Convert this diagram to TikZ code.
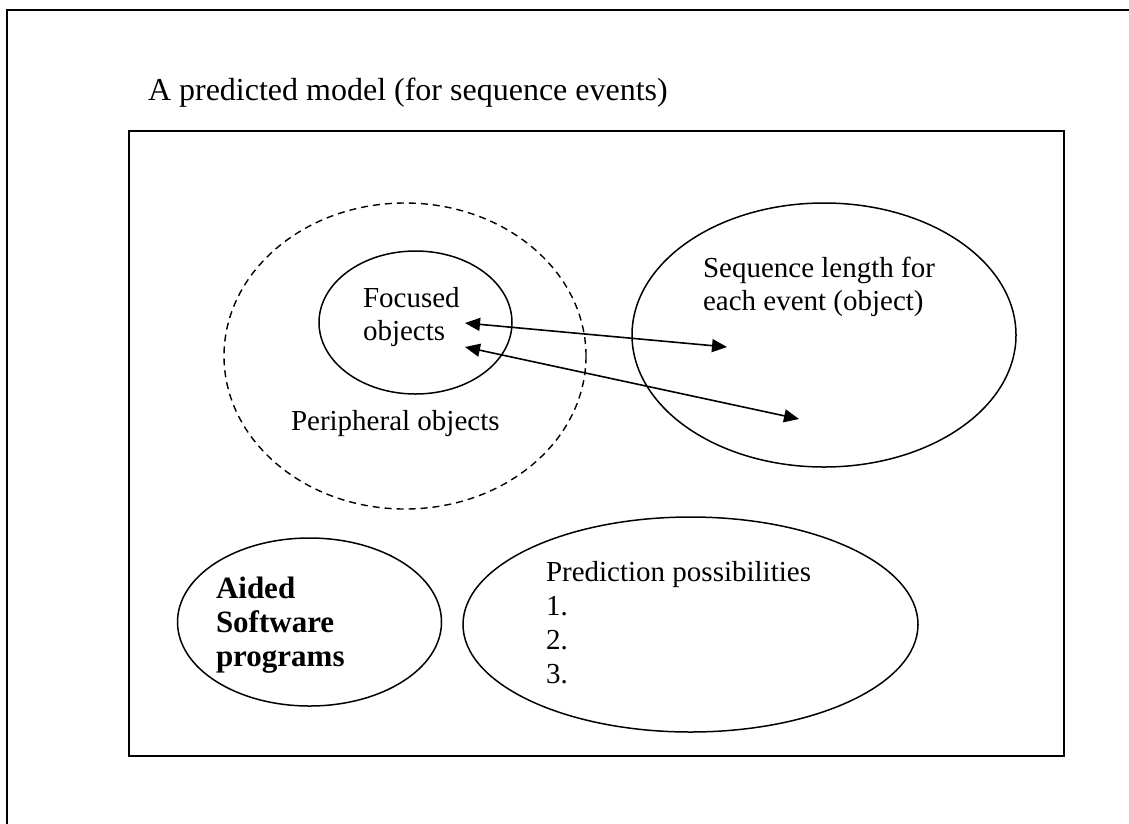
\documentclass[tikz,border=0pt]{standalone}
\usepackage{fontspec}
\setmainfont{Liberation Serif}
\usetikzlibrary{shapes.geometric,arrows.meta}

\begin{document}
\begin{tikzpicture}[x=1pt,y=-1pt,
  frame/.style={draw=black,line width=2pt},
  blob/.style={ellipse,draw=black,line width=1.5pt,inner sep=0pt,outer sep=0pt},
  dashedblob/.style={blob,line width=1.4pt,dash pattern=on 7pt off 5pt},
  lbl/.style={anchor=base west,inner sep=0pt,outer sep=0pt,font=\fontsize{29}{33}\selectfont},
  boldlbl/.style={lbl,font=\fontsize{31}{35}\selectfont\bfseries},
  ttl/.style={anchor=base west,inner sep=0pt,outer sep=0pt,font=\fontsize{32}{37}\selectfont},
  link/.style={line width=1.6pt,{Triangle[length=15pt,width=13pt]}-{Triangle[length=15pt,width=13pt]}}]

\useasboundingbox (0,0) rectangle (1129,823);
\clip (0,0) rectangle (1129,823);
\fill[white] (0,0) rectangle (1129,823);

% page frame (runs off the right and bottom edges)
\draw[frame] (1140,10) -- (7,10) -- (7,840);

% title
\node[ttl] (title) at (148,100) {A predicted model (for sequence events)};

% model box
\draw[frame] (128.5,131) rectangle (1063.5,756);

% ellipses
\node[dashedblob,minimum width=362pt,minimum height=306pt] (periph) at (405,356) {};
\node[blob,minimum width=193pt,minimum height=143pt] (focus) at (415.5,322.5) {};
\node[blob,minimum width=384pt,minimum height=264pt] (seq) at (824,335) {};
\node[blob,minimum width=264pt,minimum height=168pt] (aided) at (309.5,622) {};
\node[blob,minimum width=455pt,minimum height=215pt] (pred) at (690.5,624.5) {};

% labels
\node[lbl] (focA) at (363,307) {Focused};
\node[lbl] (focB) at (363,340) {objects};
\node[lbl] (perA) at (291,430) {Peripheral objects};
\node[lbl] (seqA) at (703,277) {Sequence length for};
\node[lbl] (seqB) at (703,310) {each event (object)};
\node[boldlbl] (aidA) at (216,598) {Aided};
\node[boldlbl] (aidB) at (216,632) {Software};
\node[boldlbl] (aidC) at (216,666) {programs};
\node[lbl] (preA) at (546,581) {Prediction possibilities};
\node[lbl] (preB) at (546,615) {1.};
\node[lbl] (preC) at (546,649) {2.};
\node[lbl] (preD) at (546,683) {3.};

% arrow end points
\coordinate (aL) at (465,323);
\coordinate (aR) at (727,347);
\coordinate (bL) at (465,347);
\coordinate (bR) at (799,419);

\draw[link] (aL) -- (aR);
\draw[link] (bL) -- (bR);
\end{tikzpicture}
\end{document}
